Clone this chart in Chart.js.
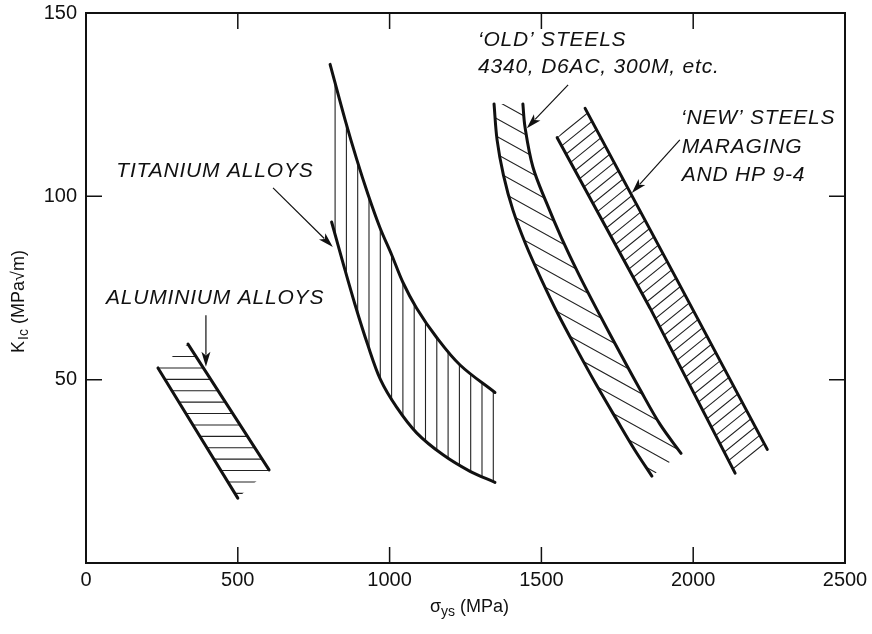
<!DOCTYPE html>
<html>
<head>
<meta charset="utf-8">
<script src="https://cdn.jsdelivr.net/npm/chart.js@4.4.0/dist/chart.umd.min.js"></script>
<style>
  html, body { margin: 0; padding: 0; background: #fff; }
  #wrap { width: 872px; height: 634px; }
</style>
</head>
<body>
<div id="wrap"><canvas id="grafico" width="872" height="634"></canvas></div>
<script>
// --- dados (sigma_ys em MPa, K_Ic em MPa√m) ---
const xTicks = [0, 500, 1000, 1500, 2000, 2500];
const yTicks = [0, 50, 100, 150];

// ligas de alumínio: duas bordas retas
const aluminioEsq = [[237, 53.2], [500, 17.7]];
const aluminioDir = [[336, 59.7], [603, 25.4]];

// ligas de titânio: curva superior e inferior
const titanioSup = [[804, 136], [853, 121], [892, 110], [929, 100.5], [968, 91.5], [1007, 84],
  [1044, 76.5], [1089, 69.5], [1155, 61.5], [1232, 54], [1347, 46.5]];
const titanioInf = [[809, 93], [846, 82], [886, 70.5], [928, 59.5], [970, 50], [1023, 42.5],
  [1089, 35.5], [1176, 29.5], [1265, 25], [1347, 22]];

// aços "antigos"
const acoVelhoExt = [[1344, 125.2], [1354, 115.4], [1375, 105.8], [1406, 96.3], [1449, 86.8], [1500, 77.3],
  [1556, 67.7], [1617, 58.2], [1681, 48.6], [1748, 39.1], [1807, 30.9], [1864, 23.7]];
const acoVelhoInt = [[1439, 125.2], [1446, 118.9], [1472, 108], [1517, 98.2], [1566, 88.7], [1624, 78.6],
  [1690, 68], [1757, 57.6], [1825, 47.3], [1891, 37.8], [1960, 29.9]];

// aços "novos"
const acoNovoEsq = [[1552, 116], [1858, 69.5], [2138, 24.5]];
const acoNovoDir = [[1644, 124], [1948, 77], [2244, 31]];

// rótulos e setas (posições em unidades dos eixos)
const rotulos = [
  { texto: 'TITANIUM ALLOYS', pos: [100, 107] },
  { texto: 'ALUMINIUM ALLOYS', pos: [66, 72.3] },
  { texto: '\u2018OLD\u2019 STEELS', pos: [1291, 142.6] },
  { texto: '4340, D6AC, 300M, etc.', pos: [1291, 135.2] },
  { texto: '\u2018NEW\u2019 STEELS', pos: [1960, 121.4] },
  { texto: 'MARAGING', pos: [1962, 113.4] },
  { texto: 'AND HP 9-4', pos: [1962, 105.8] }
];
const setas = [
  { de: [616, 102.3], para: [813, 86.2] },
  { de: [395, 67.6], para: [395, 53.5] },
  { de: [1588, 130.4], para: [1452, 118.6] },
  { de: [1956, 115.4], para: [1798, 100.9] }
];

const linha = (dados, curva) => ({
  data: dados.map(p => ({ x: p[0], y: p[1] })),
  showLine: true,
  borderColor: '#111',
  borderWidth: 3,
  pointRadius: 0,
  tension: curva ? 0.35 : 0,
  borderCapStyle: 'round'
});

// faixas hachuradas: contorno a partir das mesmas séries
const faixas = [
  { contorno: aluminioEsq.slice(0, 1).concat(aluminioDir, aluminioEsq.slice(1)), ancora: 0, fase: 0, angulo: 0, passo: 11.4 },
  { contorno: titanioSup.concat(titanioInf.slice().reverse()), ancora: 0, fase: 5, angulo: 90, passo: 11.3 },
  { contorno: acoVelhoExt.concat(acoVelhoInt.slice().reverse()), ancora: 0, fase: 4, angulo: -29, passo: 15.5 },
  { contorno: acoNovoEsq.slice(0, 1).concat(acoNovoDir, acoNovoEsq.slice(1).reverse()), ancora: 0, fase: 0, angulo: 39, passo: 9.2 }
];

const pluginHachura = {
  id: 'hachura',
  beforeDatasetsDraw(chart) {
    const { ctx, scales: { x, y } } = chart;
    faixas.forEach(f => {
      const pts = f.contorno.map(p => [x.getPixelForValue(p[0]), y.getPixelForValue(p[1])]);
      ctx.save();
      ctx.beginPath();
      pts.forEach((p, i) => i ? ctx.lineTo(p[0], p[1]) : ctx.moveTo(p[0], p[1]));
      ctx.closePath();
      ctx.clip();
      const xs = pts.map(p => p[0]), ys = pts.map(p => p[1]);
      const R = Math.hypot(Math.max(...xs) - Math.min(...xs), Math.max(...ys) - Math.min(...ys)) * 2;
      const a = f.angulo * Math.PI / 180;
      const dx = Math.cos(a), dy = -Math.sin(a);
      // normal sempre apontando para a direita/baixo
      let nx = -dy, ny = dx;
      if (nx < -1e-9 || (Math.abs(nx) < 1e-9 && ny < 0)) { nx = -nx; ny = -ny; }
      const [cx, cy] = pts[f.ancora];
      const n = Math.ceil(R / f.passo);
      ctx.beginPath();
      for (let k = -n; k <= n; k++) {
        const t = f.fase + k * f.passo;
        const px = cx + nx * t, py = cy + ny * t;
        ctx.moveTo(px - dx * R, py - dy * R);
        ctx.lineTo(px + dx * R, py + dy * R);
      }
      ctx.lineWidth = 1.1;
      ctx.strokeStyle = '#222';
      ctx.stroke();
      ctx.restore();
    });
  }
};

function desenhaSeta(ctx, x1, y1, x2, y2) {
  const ang = Math.atan2(y2 - y1, x2 - x1);
  const L = 15, W = 4.5;
  ctx.beginPath();
  ctx.moveTo(x1, y1);
  ctx.lineTo(x2 - Math.cos(ang) * L * 0.8, y2 - Math.sin(ang) * L * 0.8);
  ctx.lineWidth = 1.2;
  ctx.stroke();
  ctx.beginPath();
  ctx.moveTo(x2, y2);
  ctx.lineTo(x2 - Math.cos(ang) * L - Math.sin(ang) * W, y2 - Math.sin(ang) * L + Math.cos(ang) * W);
  ctx.lineTo(x2 - Math.cos(ang) * L * 0.75, y2 - Math.sin(ang) * L * 0.75);
  ctx.lineTo(x2 - Math.cos(ang) * L + Math.sin(ang) * W, y2 - Math.sin(ang) * L - Math.cos(ang) * W);
  ctx.closePath();
  ctx.fill();
}

const pluginMoldura = {
  id: 'moldura',
  afterDraw(chart) {
    const { ctx, chartArea: ca, scales: { x, y } } = chart;
    ctx.save();
    ctx.strokeStyle = '#111';
    ctx.fillStyle = '#111';
    // caixa
    ctx.lineWidth = 2;
    ctx.strokeRect(ca.left, ca.top, ca.right - ca.left, ca.bottom - ca.top);
    // marcas para dentro nos quatro lados
    ctx.lineWidth = 1.5;
    ctx.beginPath();
    x.ticks.forEach(t => {
      if (t.value <= x.min || t.value >= x.max) return;
      const px = x.getPixelForValue(t.value);
      ctx.moveTo(px, ca.bottom); ctx.lineTo(px, ca.bottom - 16);
      ctx.moveTo(px, ca.top); ctx.lineTo(px, ca.top + 16);
    });
    y.ticks.forEach(t => {
      if (t.value <= y.min || t.value >= y.max) return;
      const py = y.getPixelForValue(t.value);
      ctx.moveTo(ca.left, py); ctx.lineTo(ca.left + 16, py);
      ctx.moveTo(ca.right, py); ctx.lineTo(ca.right - 16, py);
    });
    ctx.stroke();

    // rótulos
    ctx.font = 'italic 21px "Liberation Sans", Arial, sans-serif';
    ctx.letterSpacing = '0.8px';
    ctx.textBaseline = 'middle';
    ctx.textAlign = 'left';
    rotulos.forEach(r => ctx.fillText(r.texto, x.getPixelForValue(r.pos[0]), y.getPixelForValue(r.pos[1])));
    ctx.letterSpacing = '0px';

    setas.forEach(s => desenhaSeta(ctx, x.getPixelForValue(s.de[0]), y.getPixelForValue(s.de[1]),
      x.getPixelForValue(s.para[0]), y.getPixelForValue(s.para[1])));

    // título eixo x: sigma_ys (MPa)
    const fonte = '18px "Liberation Sans", Arial, sans-serif';
    const fonteSub = '14px "Liberation Sans", Arial, sans-serif';
    const cx = (ca.left + ca.right) / 2 + 4;
    ctx.font = fonte;
    const wSig = ctx.measureText('\u03c3').width;
    const wRest = ctx.measureText(' (MPa)').width;
    ctx.font = fonteSub;
    const wYs = ctx.measureText('ys').width;
    let px = cx - (wSig + wYs + wRest) / 2;
    const py = 607;
    ctx.font = fonte; ctx.fillText('\u03c3', px, py); px += wSig;
    ctx.font = fonteSub; ctx.fillText('ys', px, py + 5); px += wYs;
    ctx.font = fonte; ctx.fillText(' (MPa)', px, py);

    // título eixo y: K_Ic (MPa√m)
    ctx.translate(19, 302);
    ctx.rotate(-Math.PI / 2);
    ctx.font = fonte;
    const wK = ctx.measureText('K').width;
    const wR = ctx.measureText(' (MPa\u221am)').width;
    ctx.font = fonteSub;
    const wIc = ctx.measureText('Ic').width;
    let qx = -(wK + wIc + wR) / 2;
    ctx.font = fonte; ctx.fillText('K', qx, 0); qx += wK;
    ctx.font = fonteSub; ctx.fillText('Ic', qx + 1, 5); qx += wIc + 1;
    ctx.font = fonte; ctx.fillText(' (MPa\u221am)', qx, 0);
    ctx.restore();
  }
};

Chart.defaults.font.family = '"Liberation Sans", Arial, sans-serif';
Chart.defaults.color = '#111';

new Chart(document.getElementById('grafico'), {
  type: 'scatter',
  data: {
    datasets: [
      linha(aluminioEsq, false),
      linha(aluminioDir, false),
      linha(titanioSup, true),
      linha(titanioInf, true),
      linha(acoVelhoExt, true),
      linha(acoVelhoInt, true),
      linha(acoNovoEsq, false),
      linha(acoNovoDir, false)
    ]
  },
  options: {
    responsive: false,
    animation: false,
    devicePixelRatio: 1,
    layout: { padding: { top: 13, right: 27, left: 0, bottom: 0 } },
    plugins: { legend: { display: false }, tooltip: { enabled: false } },
    scales: {
      x: {
        type: 'linear',
        min: xTicks[0],
        max: xTicks[xTicks.length - 1],
        afterBuildTicks: s => { s.ticks = xTicks.map(v => ({ value: v })); },
        ticks: { font: { size: 20 }, padding: 5, maxRotation: 0, callback: v => String(v) },
        grid: { display: false, drawTicks: false },
        border: { display: false },
        afterFit: s => { s.height = 71; s.paddingLeft = 0; s.paddingRight = 0; }
      },
      y: {
        type: 'linear',
        min: yTicks[0],
        max: yTicks[yTicks.length - 1],
        afterBuildTicks: s => { s.ticks = yTicks.map(v => ({ value: v })); },
        ticks: { font: { size: 20 }, padding: 9, callback: v => v === 0 ? '' : String(v) },
        grid: { display: false, drawTicks: false },
        border: { display: false },
        afterFit: s => { s.width = 86; s.paddingTop = 0; s.paddingBottom = 0; }
      }
    }
  },
  plugins: [pluginHachura, pluginMoldura]
});
</script>
</body>
</html>
